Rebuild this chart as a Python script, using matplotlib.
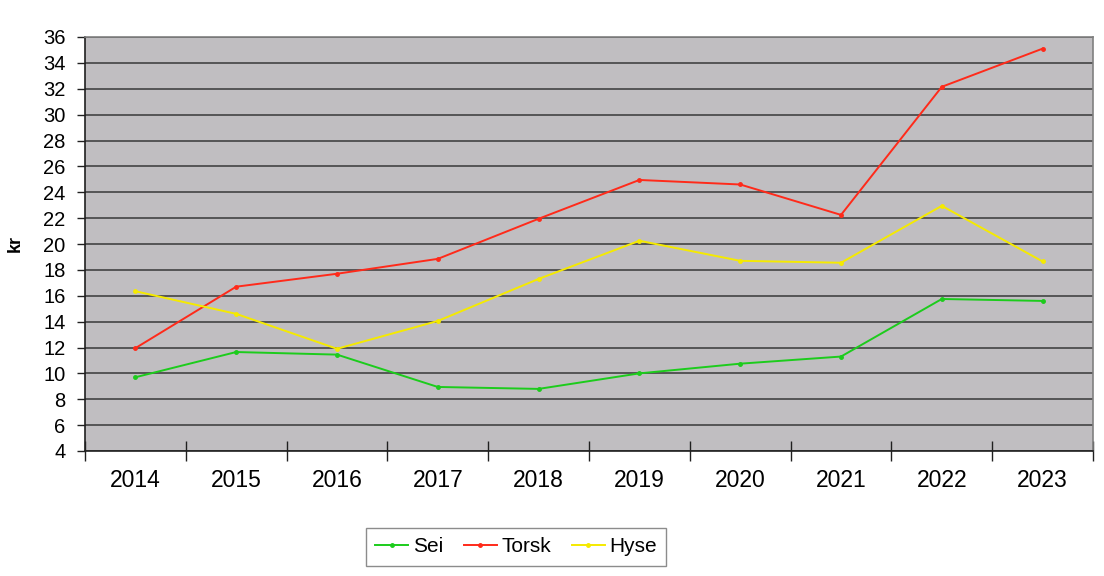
import numpy as np
import matplotlib.pyplot as plt

plt.rcParams['font.family'] = ['Liberation Sans', 'DejaVu Sans']

# Data (kr)
years = ['2014', '2015', '2016', '2017', '2018', '2019', '2020', '2021', '2022', '2023']
sei = [9.7, 11.65, 11.45, 8.95, 8.8, 10.0, 10.75, 11.3, 15.75, 15.6]
torsk = [11.95, 16.7, 17.7, 18.85, 21.95, 24.95, 24.6, 22.25, 32.15, 35.1]
hyse = [16.35, 14.6, 11.9, 14.05, 17.3, 20.25, 18.7, 18.55, 22.95, 18.65]

fig = plt.figure(figsize=(11.04, 5.76), dpi=100)
ax = fig.add_axes([85 / 1104, 1 - 451 / 576, (1093 - 85) / 1104, (451 - 37) / 576])
ax.set_facecolor('#c0bec1')

x = np.arange(len(years))
ax.plot(x, sei, color='#1ccc1c', lw=1.4, marker='o', ms=2.5, label='Sei')
ax.plot(x, torsk, color='#ff2a1a', lw=1.4, marker='o', ms=2.5, label='Torsk')
ax.plot(x, hyse, color='#f5ea00', lw=1.4, marker='o', ms=2.5, label='Hyse')

ax.set_xlim(-0.5, len(years) - 0.5)
ax.set_ylim(4, 36)
ax.set_yticks(np.arange(4, 37, 2))
ax.yaxis.grid(True, color='#383838', lw=1.1)
ax.set_axisbelow(True)

# category ticks between years, labels centered
ax.set_xticks(np.arange(-0.5, len(years), 1.0))
ax.set_xticklabels([])
ax.set_xticks(x, minor=True)
ax.set_xticklabels(years, minor=True)
ax.tick_params(axis='x', which='major', direction='inout', length=14, width=1, color='#202020')
ax.tick_params(axis='x', which='minor', length=0, pad=13, labelsize=16.5)
ax.tick_params(axis='y', direction='out', length=6, width=1, color='#202020', labelsize=14.5, pad=8)

for side in ['top', 'right']:
    ax.spines[side].set_color('#808080')
    ax.spines[side].set_linewidth(1.2)
for side in ['left', 'bottom']:
    ax.spines[side].set_color('#202020')
    ax.spines[side].set_linewidth(1.2)

ax.set_ylabel('kr', fontsize=13, fontweight='bold', labelpad=14)

leg = fig.legend(loc='center', bbox_to_anchor=(516 / 1104, 1 - 547 / 576), ncol=3,
                 fontsize=15, frameon=True, fancybox=False, handlelength=1.6,
                 columnspacing=1.0, handletextpad=0.2, borderpad=0.45, borderaxespad=0)
leg.get_frame().set_edgecolor('#707070')
leg.get_frame().set_linewidth(1.0)

fig.savefig('out.png', dpi=100)
